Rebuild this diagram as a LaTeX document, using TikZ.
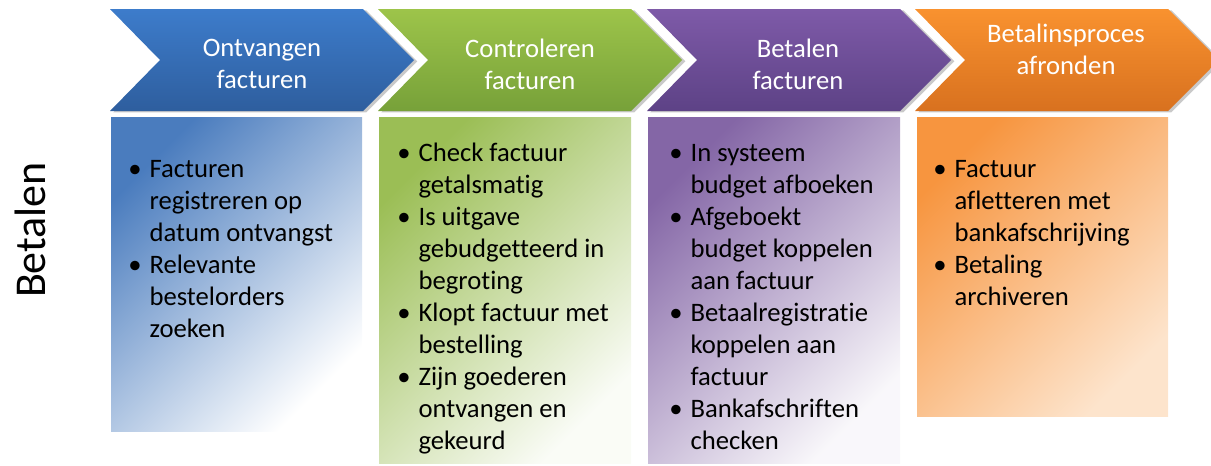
\documentclass[tikz,border=0pt]{standalone}
\usepackage{fontspec}
\setmainfont{Carlito}[Ligatures=CommonOff]
\usetikzlibrary{shadows}

% looks that repeat
\tikzset{
  fase/.style={font=\fontsize{20}{24}\selectfont, text=white, align=center},
  taken/.style={font=\fontsize{20}{24}\selectfont, anchor=north west, inner sep=0pt},
  chevron/.style={drop shadow={shadow xshift=2.5pt, shadow yshift=-1pt, opacity=0.3, fill=black!70}},
  kolom/.style={shading angle=45}
}
\newcommand{\punten}[1]{\begin{tabular}{@{}l@{\hspace{6pt}}l@{}}#1\end{tabular}}

\begin{document}
\begin{tikzpicture}[x=0.75pt, y=0.75pt]
  % Define colors
  \definecolor{blauwtop}{HTML}{3D7CCB}
  \definecolor{blauwbodem}{HTML}{2E5E9E}
  \definecolor{groentop}{HTML}{9DC44A}
  \definecolor{groenbodem}{HTML}{77A139}
  \definecolor{paarstop}{HTML}{7E5AA8}
  \definecolor{paarsbodem}{HTML}{5D4286}
  \definecolor{oranjetop}{HTML}{F9922F}
  \definecolor{oranjebodem}{HTML}{D8711F}
  \definecolor{blauwvak}{HTML}{4A7CBE}
  \definecolor{groenvak}{HTML}{9BBE55}
  \definecolor{paarsvak}{HTML}{8466A6}
  \definecolor{oranjevak}{HTML}{F7953F}
  \definecolor{oranjelicht}{HTML}{FDE4CC}

  \useasboundingbox (0,0) rectangle (1211,-465);

  % Side label
  \node[font=\fontsize{33}{40}\selectfont, rotate=90] (proces) at (30,-230) {Betalen};

  % Phase chevrons
  \path[chevron, top color=blauwtop, bottom color=blauwbodem]
    (110,-9) -- (363,-9) -- (414,-60) -- (363,-111) -- (110,-111) -- (160,-60) -- cycle;
  \path[chevron, top color=groentop, bottom color=groenbodem]
    (378,-9) -- (631,-9) -- (682,-60) -- (631,-111) -- (378,-111) -- (428,-60) -- cycle;
  \path[chevron, top color=paarstop, bottom color=paarsbodem]
    (647,-9) -- (900,-9) -- (951,-60) -- (900,-111) -- (647,-111) -- (697,-60) -- cycle;
  \path[chevron, top color=oranjetop, bottom color=oranjebodem]
    (915,-9) -- (1168,-9) -- (1219,-60) -- (1168,-111) -- (915,-111) -- (965,-60) -- cycle;

  \node[fase] (ontvangen) at (262,-64) {Ontvangen\\ facturen};
  \node[fase] (controleren) at (530,-64) {Controleren\\ facturen};
  \node[fase] (betalen) at (798,-64) {Betalen\\ facturen};
  \node[fase] (afronden) at (1066,-49) {Betalinsproces\\ afronden};

  % Task columns
  \shade[top color=blauwvak, bottom color=white, kolom] (111,-117) rectangle (362,-431);
  \shade[top color=groenvak, bottom color=white!95!groenvak, kolom] (379,-117) rectangle (631,-463);
  \shade[top color=paarsvak, bottom color=white!95!paarsvak, kolom] (648,-117) rectangle (900,-463);
  \shade[top color=oranjevak, bottom color=oranjelicht, kolom] (917,-117) rectangle (1168,-416);

  % Tasks per phase
  \node[taken] (taken1) at (128,-155) {\punten{
    \textbullet & Facturen\\ & registreren op\\ & datum ontvangst\\
    \textbullet & Relevante\\ & bestelorders\\ & zoeken}};
  \node[taken] (taken2) at (397,-139) {\punten{
    \textbullet & Check factuur\\ & getalsmatig\\
    \textbullet & Is uitgave\\ & gebudgetteerd in\\ & begroting\\
    \textbullet & Klopt factuur met\\ & bestelling\\
    \textbullet & Zijn goederen\\ & ontvangen en\\ & gekeurd}};
  \node[taken] (taken3) at (669,-139) {\punten{
    \textbullet & In systeem\\ & budget afboeken\\
    \textbullet & Afgeboekt\\ & budget koppelen\\ & aan factuur\\
    \textbullet & Betaalregistratie\\ & koppelen aan\\ & factuur\\
    \textbullet & Bankafschriften\\ & checken}};
  \node[taken] (taken4) at (933,-155) {\punten{
    \textbullet & Factuur\\ & afletteren met\\ & bankafschrijving\\
    \textbullet & Betaling\\ & archiveren}};
\end{tikzpicture}
\end{document}
